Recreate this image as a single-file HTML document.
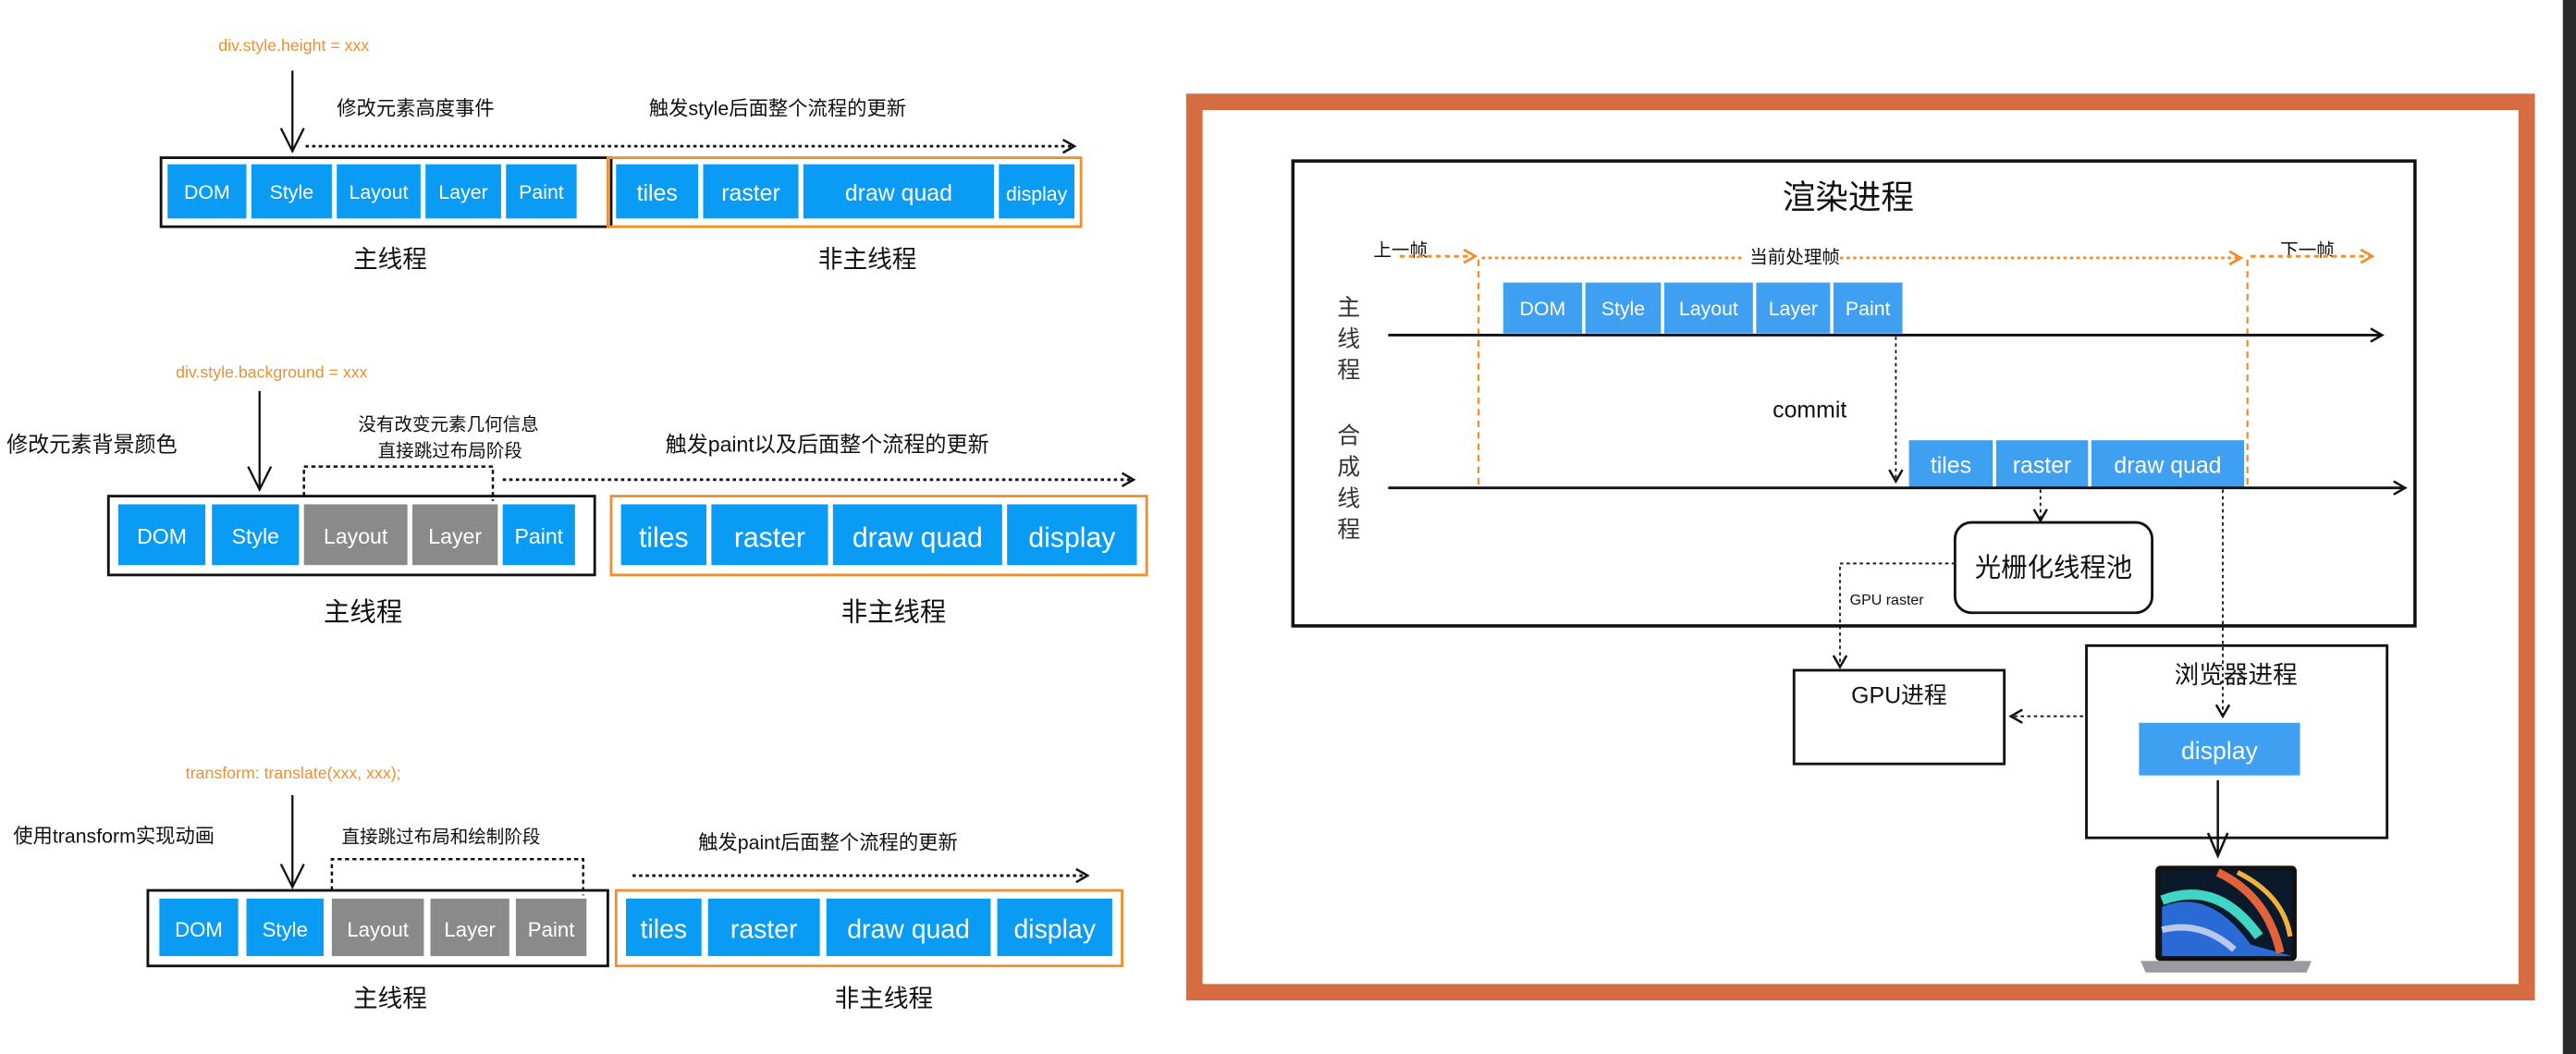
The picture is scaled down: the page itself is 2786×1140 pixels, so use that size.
<!DOCTYPE html>
<html><head><meta charset="utf-8">
<style>
html,body{margin:0;padding:0;background:#fff;}
svg{display:block;}
text{font-family:"Liberation Sans","Noto Sans CJK SC",sans-serif;}
</style></head>
<body>
<svg width="2786" height="1140" viewBox="0 0 1568 641.6" preserveAspectRatio="none" xmlns="http://www.w3.org/2000/svg">
<defs>
<marker id="ah" markerWidth="10" markerHeight="10" refX="8" refY="5" orient="auto" markerUnits="userSpaceOnUse"><path d="M1,1 L8,5 L1,9" fill="none" stroke="#111" stroke-width="1.4"/></marker>
<marker id="aho" markerWidth="10" markerHeight="10" refX="8" refY="5" orient="auto" markerUnits="userSpaceOnUse"><path d="M1,1 L8,5 L1,9" fill="none" stroke="#ef8f2d" stroke-width="1.6"/></marker>
</defs>
<rect width="1568" height="641.6" fill="#fff"/>
<rect x="1560" y="0" width="8" height="641.6" fill="#2b2b2b"/>

<!-- ============ PANEL 1 ============ -->
<g font-size="11">
<text x="133" y="31" fill="#ef8f2d" font-size="10">div.style.height = xxx</text>
<line x1="178" y1="43" x2="178" y2="92" stroke="#111" stroke-width="1.3"/>
<path d="M171,78 L178,92 L185,78" fill="none" stroke="#111" stroke-width="1.3"/>
<text x="205" y="70" fill="#111" font-size="12">修改元素高度事件</text>
<text x="395" y="70" fill="#111" font-size="12">触发style后面整个流程的更新</text>
<line x1="186" y1="89" x2="654" y2="89" stroke="#111" stroke-width="1.6" stroke-dasharray="2,2" marker-end="url(#ah)"/>
<rect x="98" y="96" width="274" height="42" fill="none" stroke="#111" stroke-width="1.6"/>
<rect x="370" y="96" width="288" height="42" fill="none" stroke="#ef8f2d" stroke-width="1.6"/>
<g fill="#0a9bf5">
<rect x="102" y="100" width="48" height="33"/><rect x="153" y="100" width="49" height="33"/><rect x="205" y="100" width="51" height="33"/><rect x="259" y="100" width="46" height="33"/><rect x="308" y="100" width="43" height="33"/>
<rect x="375" y="100" width="50" height="33"/><rect x="428" y="100" width="58" height="33"/><rect x="489" y="100" width="116" height="33"/><rect x="608" y="100" width="46" height="33"/>
</g>
<g fill="#fff" font-size="12" text-anchor="middle">
<text x="126" y="121">DOM</text><text x="177.5" y="121">Style</text><text x="230.5" y="121">Layout</text><text x="282" y="121">Layer</text><text x="329.5" y="121">Paint</text>
<text x="400" y="122" font-size="14">tiles</text><text x="457" y="122" font-size="14">raster</text><text x="547" y="122" font-size="14">draw quad</text><text x="631" y="122" font-size="12">display</text>
</g>
<text x="215" y="163" font-size="15" fill="#111">主线程</text>
<text x="498" y="163" font-size="15" fill="#111">非主线程</text>
</g>

<!-- ============ PANEL 2 ============ -->
<g>
<text x="107" y="230" fill="#ef8f2d" font-size="10">div.style.background = xxx</text>
<text x="4" y="275" fill="#111" font-size="13">修改元素背景颜色</text>
<text x="218" y="262" fill="#111" font-size="11">没有改变元素几何信息</text>
<text x="230" y="278" fill="#111" font-size="11">直接跳过布局阶段</text>
<line x1="158" y1="238" x2="158" y2="298" stroke="#111" stroke-width="1.3"/>
<path d="M151,284 L158,298 L165,284" fill="none" stroke="#111" stroke-width="1.3"/>
<path d="M185,302 L185,284 L300,284 L300,305" fill="none" stroke="#111" stroke-width="1.4" stroke-dasharray="2.5,2"/>
<line x1="306" y1="292" x2="690" y2="292" stroke="#111" stroke-width="1.6" stroke-dasharray="2,2" marker-end="url(#ah)"/>
<text x="405" y="275" fill="#111" font-size="13">触发paint以及后面整个流程的更新</text>
<rect x="66" y="302" width="296" height="48" fill="none" stroke="#111" stroke-width="1.6"/>
<rect x="372" y="302" width="326" height="48" fill="none" stroke="#ef8f2d" stroke-width="1.6"/>
<rect x="72" y="307" width="53" height="37" fill="#0a9bf5"/><rect x="129" y="307" width="53" height="37" fill="#0a9bf5"/>
<rect x="185" y="307" width="63" height="37" fill="#8a8a8a"/><rect x="251" y="307" width="52" height="37" fill="#8a8a8a"/>
<rect x="306" y="307" width="44" height="37" fill="#0a9bf5"/>
<g fill="#0a9bf5"><rect x="378" y="307" width="52" height="37"/><rect x="433" y="307" width="71" height="37"/><rect x="507" y="307" width="103" height="37"/><rect x="613" y="307" width="79" height="37"/></g>
<g fill="#fff" font-size="13" text-anchor="middle">
<text x="98.5" y="331">DOM</text><text x="155.5" y="331">Style</text><text x="216.5" y="331">Layout</text><text x="277" y="331">Layer</text><text x="328" y="331">Paint</text>
<text x="404" y="333" font-size="17">tiles</text><text x="468.5" y="333" font-size="17">raster</text><text x="558.5" y="333" font-size="17">draw quad</text><text x="652.5" y="333" font-size="17">display</text>
</g>
<text x="197" y="378" font-size="16" fill="#111">主线程</text>
<text x="512" y="378" font-size="16" fill="#111">非主线程</text>
</g>

<!-- ============ PANEL 3 ============ -->
<g>
<text x="113" y="474" fill="#ef8f2d" font-size="10">transform: translate(xxx, xxx);</text>
<text x="8" y="513" fill="#111" font-size="12">使用transform实现动画</text>
<text x="208" y="513" fill="#111" font-size="11">直接跳过布局和绘制阶段</text>
<text x="425" y="517" fill="#111" font-size="12">触发paint后面整个流程的更新</text>
<line x1="178" y1="484" x2="178" y2="540" stroke="#111" stroke-width="1.3"/>
<path d="M171,526 L178,540 L185,526" fill="none" stroke="#111" stroke-width="1.3"/>
<path d="M202,542 L202,523 L355,523 L355,545" fill="none" stroke="#111" stroke-width="1.4" stroke-dasharray="2.5,2"/>
<line x1="385" y1="533" x2="662" y2="533" stroke="#111" stroke-width="1.6" stroke-dasharray="2,2" marker-end="url(#ah)"/>
<rect x="90" y="542" width="280" height="46" fill="none" stroke="#111" stroke-width="1.6"/>
<rect x="375" y="542" width="308" height="46" fill="none" stroke="#ef8f2d" stroke-width="1.6"/>
<rect x="97" y="547" width="48" height="35" fill="#0a9bf5"/><rect x="150" y="547" width="47" height="35" fill="#0a9bf5"/>
<rect x="202" y="547" width="56" height="35" fill="#8a8a8a"/><rect x="262" y="547" width="48" height="35" fill="#8a8a8a"/><rect x="314" y="547" width="43" height="35" fill="#8a8a8a"/>
<g fill="#0a9bf5"><rect x="381" y="547" width="46" height="35"/><rect x="431" y="547" width="68" height="35"/><rect x="503" y="547" width="100" height="35"/><rect x="607" y="547" width="70" height="35"/></g>
<g fill="#fff" font-size="12.5" text-anchor="middle">
<text x="121" y="570">DOM</text><text x="173.5" y="570">Style</text><text x="230" y="570">Layout</text><text x="286" y="570">Layer</text><text x="335.5" y="570">Paint</text>
<text x="404" y="571" font-size="16">tiles</text><text x="465" y="571" font-size="16">raster</text><text x="553" y="571" font-size="16">draw quad</text><text x="642" y="571" font-size="16">display</text>
</g>
<text x="215" y="613" font-size="15" fill="#111">主线程</text>
<text x="508" y="613" font-size="15" fill="#111">非主线程</text>
</g>

<!-- ============ RIGHT FRAME ============ -->
<rect x="727" y="62" width="811" height="542" fill="none" stroke="#d66d42" stroke-width="10"/>
<rect x="787" y="98" width="683" height="283" fill="none" stroke="#111" stroke-width="2"/>
<text x="1085" y="127" font-size="20" fill="#111">渲染进程</text>
<text x="836" y="156" font-size="11" fill="#111">上一帧</text>
<text x="1065" y="160" font-size="11" fill="#111">当前处理帧</text>
<text x="1388" y="156" font-size="11" fill="#111">下一帧</text>
<line x1="852" y1="156" x2="898" y2="156" stroke="#ef8f2d" stroke-width="1.6" stroke-dasharray="3,2.5" marker-end="url(#aho)"/>
<line x1="902" y1="157" x2="1062" y2="157" stroke="#ef8f2d" stroke-width="1.6" stroke-dasharray="2,2"/>
<line x1="1120" y1="157" x2="1364" y2="157" stroke="#ef8f2d" stroke-width="1.6" stroke-dasharray="2,2" marker-end="url(#aho)"/>
<line x1="1370" y1="156" x2="1444" y2="156" stroke="#ef8f2d" stroke-width="1.6" stroke-dasharray="3,2.5" marker-end="url(#aho)"/>
<line x1="900" y1="158" x2="900" y2="298" stroke="#ef8f2d" stroke-width="1.3" stroke-dasharray="4,3"/>
<line x1="1368" y1="158" x2="1368" y2="298" stroke="#ef8f2d" stroke-width="1.3" stroke-dasharray="4,3"/>
<g font-size="14" fill="#333" text-anchor="middle">
<text x="821" y="192">主</text><text x="821" y="211">线</text><text x="821" y="230">程</text>
<text x="821" y="270">合</text><text x="821" y="289">成</text><text x="821" y="308">线</text><text x="821" y="327">程</text>
</g>
<g fill="#3f9ff0">
<rect x="915" y="172" width="48" height="31"/><rect x="965" y="172" width="46" height="31"/><rect x="1013" y="172" width="54" height="31"/><rect x="1069" y="172" width="45" height="31"/><rect x="1116" y="172" width="42" height="31"/>
<rect x="1162" y="268" width="51" height="29"/><rect x="1215" y="268" width="56" height="29"/><rect x="1273" y="268" width="93" height="29"/>
</g>
<g fill="#fff" font-size="12" text-anchor="middle">
<text x="939" y="192">DOM</text><text x="988" y="192">Style</text><text x="1040" y="192">Layout</text><text x="1091.5" y="192">Layer</text><text x="1137" y="192">Paint</text>
<text x="1187.5" y="288" font-size="14">tiles</text><text x="1243" y="288" font-size="14">raster</text><text x="1319.5" y="288" font-size="14">draw quad</text>
</g>
<line x1="845" y1="204" x2="1450" y2="204" stroke="#111" stroke-width="1.6" marker-end="url(#ah)"/>
<line x1="845" y1="297" x2="1464" y2="297" stroke="#111" stroke-width="1.6" marker-end="url(#ah)"/>
<text x="1079" y="254" font-size="14" fill="#111">commit</text>
<line x1="1154" y1="205" x2="1154" y2="293" stroke="#111" stroke-width="1" stroke-dasharray="2,2" marker-end="url(#ah)"/>
<line x1="1242" y1="298" x2="1242" y2="317" stroke="#111" stroke-width="1" stroke-dasharray="2,2" marker-end="url(#ah)"/>
<rect x="1190" y="318" width="120" height="55" rx="10" fill="none" stroke="#111" stroke-width="1.6"/>
<text x="1250" y="351" font-size="16" fill="#111" text-anchor="middle">光栅化线程池</text>
<path d="M1190,343 L1120,343 L1120,406" fill="none" stroke="#111" stroke-width="1" stroke-dasharray="2,2" marker-end="url(#ah)"/>
<text x="1126" y="368" font-size="9" fill="#111">GPU raster</text>
<line x1="1353" y1="298" x2="1353" y2="436" stroke="#111" stroke-width="1" stroke-dasharray="2,2" marker-end="url(#ah)"/>
<rect x="1092" y="408" width="128" height="57" fill="none" stroke="#111" stroke-width="1.6"/>
<text x="1156" y="428" font-size="14" fill="#111" text-anchor="middle">GPU进程</text>
<rect x="1270" y="393" width="183" height="117" fill="none" stroke="#111" stroke-width="1.6"/>
<text x="1361" y="416" font-size="15" fill="#111" text-anchor="middle">浏览器进程</text>
<rect x="1302" y="440" width="98" height="32" fill="#3f9ff0"/>
<text x="1351" y="462" font-size="15" fill="#fff" text-anchor="middle">display</text>
<line x1="1268" y1="436" x2="1224" y2="436" stroke="#111" stroke-width="1" stroke-dasharray="2,2" marker-end="url(#ah)"/>
<line x1="1350" y1="475" x2="1350" y2="520" stroke="#111" stroke-width="1.4"/>
<path d="M1344,507 L1350,521 L1356,507" fill="none" stroke="#111" stroke-width="1.4"/>
<!-- laptop -->
<rect x="1312" y="527" width="86" height="58" rx="3" fill="#111"/>
<rect x="1315" y="530" width="80" height="52" fill="#0b1a2a"/>
<path d="M1316,552 Q1345,540 1370,575 L1395,582 L1316,582 Z" fill="#2a6ad4"/>
<path d="M1316,548 Q1350,535 1375,570" fill="none" stroke="#3fd6c6" stroke-width="6"/>
<path d="M1350,531 Q1380,545 1388,580" fill="none" stroke="#e2623a" stroke-width="5"/>
<path d="M1362,531 Q1390,545 1394,570" fill="none" stroke="#f0b23c" stroke-width="3"/>
<path d="M1316,566 Q1340,560 1360,578" fill="none" stroke="#b8c8f0" stroke-width="4"/>
<path d="M1303,585 L1407,585 L1404,592 L1306,592 Z" fill="#9a9aa0"/>
</svg>
</body></html>
